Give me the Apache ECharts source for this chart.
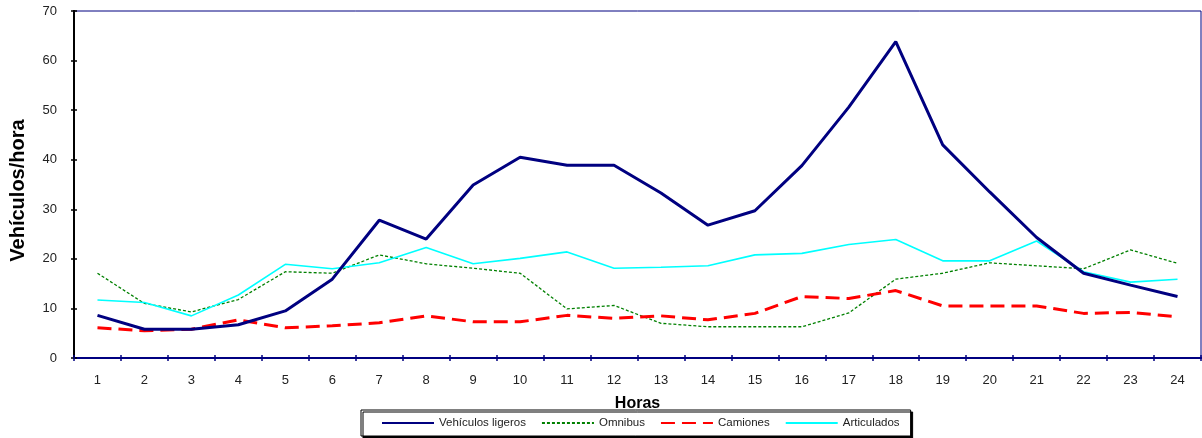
<!DOCTYPE html>
<html>
<head>
<meta charset="utf-8">
<script src="https://cdn.jsdelivr.net/npm/echarts@6/dist/echarts.min.js"></script>
<style>
  html, body { margin: 0; padding: 0; background: #fff; }
  #chart { width: 1202px; height: 438px; }
</style>
</head>
<body>
<div id="chart"></div>
<script>
// Hourly traffic counts by vehicle type
const horas = ['1','2','3','4','5','6','7','8','9','10','11','12','13','14','15','16','17','18','19','20','21','22','23','24'];
const ligeros = [8.6, 5.8, 5.8, 6.7, 9.5, 15.9, 27.8, 24.0, 34.9, 40.5, 38.9, 38.9, 33.3, 26.8, 29.7, 38.8, 50.6, 63.8, 43.0, 33.5, 24.3, 17.1, 14.7, 12.4];
const omnibus = [17.1, 11.0, 9.3, 11.8, 17.4, 17.1, 20.8, 19.0, 18.1, 17.1, 9.9, 10.6, 7.0, 6.3, 6.3, 6.3, 9.1, 15.9, 17.1, 19.2, 18.6, 18.0, 21.8, 19.1];
const camiones = [6.1, 5.5, 5.8, 7.7, 6.1, 6.5, 7.1, 8.5, 7.3, 7.3, 8.6, 8.0, 8.5, 7.7, 9.0, 12.4, 12.0, 13.6, 10.5, 10.5, 10.5, 9.0, 9.2, 8.3];
const articulados = [11.7, 11.2, 8.5, 12.7, 18.9, 18.0, 19.2, 22.3, 19.0, 20.1, 21.4, 18.1, 18.3, 18.6, 20.8, 21.1, 22.9, 23.9, 19.6, 19.6, 23.6, 17.4, 15.3, 15.9];
const yTicks = { min: 0, max: 70, interval: 10 };

const font = 'Liberation Sans, Arial, sans-serif';
const chart = echarts.init(document.getElementById('chart'), null, { renderer: 'canvas' });

const baseX = {
  type: 'category',
  data: horas,
  boundaryGap: true,
  position: 'bottom',
  axisLine: { show: true, lineStyle: { color: '#000080', width: 2 } },
  axisTick: { show: true, length: 3, lineStyle: { color: '#000080', width: 1.5 } },
  splitLine: { show: false }
};
const baseY = {
  type: 'value',
  min: yTicks.min, max: yTicks.max, interval: yTicks.interval,
  position: 'left',
  axisLine: { show: true, lineStyle: { color: '#000', width: 2 } },
  axisTick: { show: true, length: 3, lineStyle: { color: '#000', width: 1.5 } },
  splitLine: { show: false }
};

chart.setOption({
  animation: false,
  backgroundColor: '#fff',
  grid: {
    left: 74, top: 11, right: 1, bottom: 80,
    show: true, borderColor: '#000080', borderWidth: 1
  },
  xAxis: [
    Object.assign({}, baseX, {
      name: 'Horas',
      nameLocation: 'middle',
      nameGap: 38,
      nameTextStyle: { fontFamily: font, fontSize: 16, fontWeight: 'bold', color: '#000' },
      axisLabel: { margin: 16, fontFamily: font, fontSize: 13, color: '#222' }
    }),
    // second copy of the axis draws the inward half of the crossing ticks
    Object.assign({}, baseX, {
      axisTick: { show: true, inside: true, length: 3, lineStyle: { color: '#000080', width: 1.5 } },
      axisLabel: { show: false }
    })
  ],
  yAxis: [
    Object.assign({}, baseY, {
      name: 'Vehículos/hora',
      nameLocation: 'middle',
      nameGap: 46,
      nameTextStyle: { fontFamily: font, fontSize: 20, fontWeight: 'bold', color: '#000', padding: [0, 12, 0, 0] },
      axisLabel: { margin: 17, fontFamily: font, fontSize: 13, color: '#222' }
    }),
    Object.assign({}, baseY, {
      axisTick: { show: true, inside: true, length: 3, lineStyle: { color: '#000', width: 1.5 } },
      axisLabel: { show: false }
    })
  ],
  legend: {
    left: 361, top: 410,
    padding: [7, 11, 7, 20],
    itemWidth: 52, itemHeight: 12, itemGap: 15, itemTextGap: 7,
    borderColor: '#000', borderWidth: 1,
    shadowColor: '#000', shadowOffsetX: 2, shadowOffsetY: 2, shadowBlur: 0,
    backgroundColor: '#fff',
    itemStyle: { opacity: 0 },
    textStyle: { fontFamily: font, fontSize: 11.5, color: '#222' },
    data: ['Vehículos ligeros', 'Omnibus', 'Camiones', 'Articulados']
  },
  series: [
    {
      name: 'Omnibus', type: 'line', data: omnibus, symbol: 'none',
      lineStyle: { color: '#008000', width: 1.3, type: [3, 2] },
      itemStyle: { color: '#008000' }, z: 2
    },
    {
      name: 'Articulados', type: 'line', data: articulados, symbol: 'none',
      lineStyle: { color: '#00ffff', width: 1.6 },
      itemStyle: { color: '#00ffff' }, z: 3
    },
    {
      name: 'Camiones', type: 'line', data: camiones, symbol: 'none',
      lineStyle: { color: '#ff0000', width: 3, type: [14, 7] },
      itemStyle: { color: '#ff0000' }, z: 4
    },
    {
      name: 'Vehículos ligeros', type: 'line', data: ligeros, symbol: 'none',
      lineStyle: { color: '#000080', width: 3 },
      itemStyle: { color: '#000080' }, z: 5
    }
  ]
});
</script>
</body>
</html>
